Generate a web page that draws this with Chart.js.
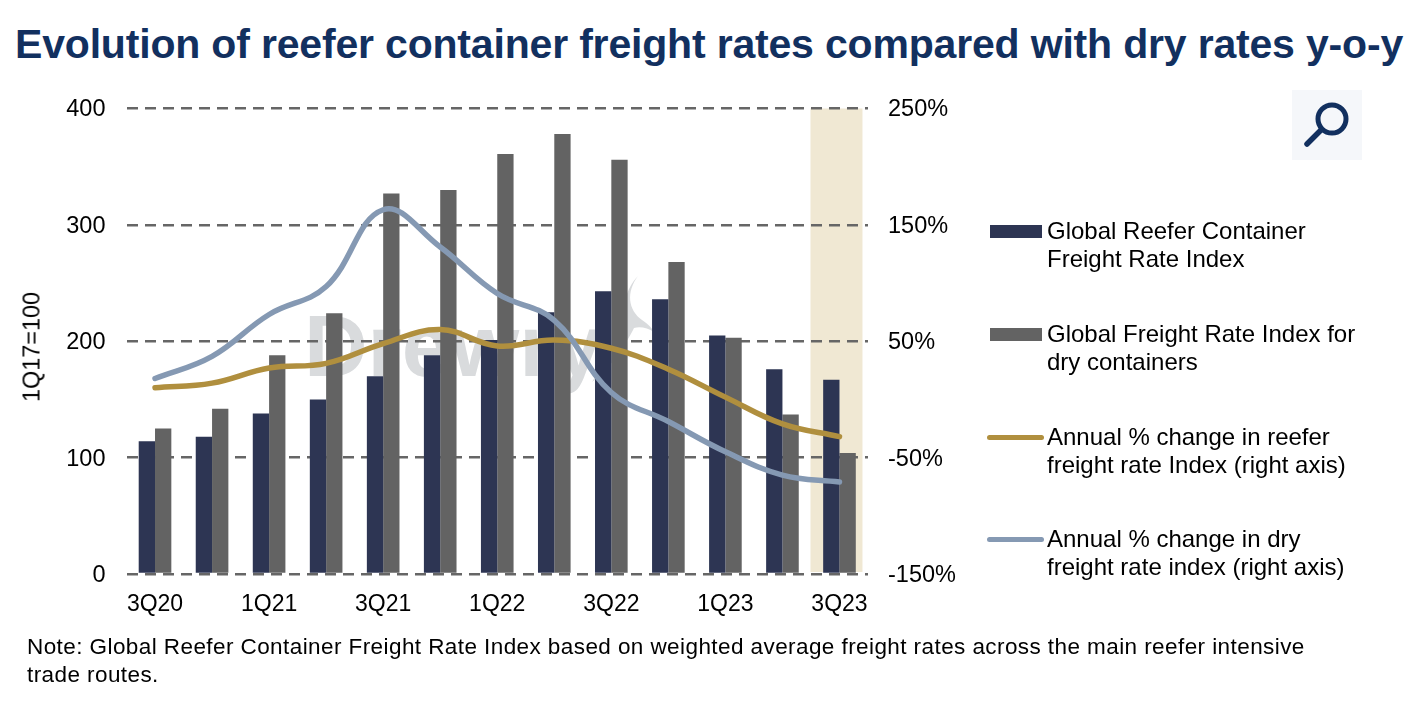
<!DOCTYPE html>
<html>
<head>
<meta charset="utf-8">
<title>Reefer freight rates</title>
<script src="https://cdn.jsdelivr.net/npm/chart.js@4/dist/chart.umd.min.js"></script>
<style>
  html, body { margin: 0; padding: 0; background: #fff; }
  body { width: 1416px; height: 716px; position: relative; overflow: hidden; font-family: "Liberation Sans", Arial, sans-serif; color: #000; }
  #title { position: absolute; left: 15px; top: 21px; font-size: 41px; letter-spacing: -0.18px; font-weight: bold; color: #12305f; white-space: nowrap; }
  #note { position: absolute; left: 27px; top: 633px; font-size: 22.5px; letter-spacing: 0.42px; line-height: 28px; white-space: nowrap; }
  #watermark { position: absolute; left: 304px; top: 295px; font-size: 88px; font-weight: bold; color: #d9dbdd; }
  #flame { position: absolute; left: 590px; top: 270px; }
  #chart { position: absolute; left: 0; top: 0; }
  #yTitle { position: absolute; left: 32px; top: 347px; font-size: 23.4px; white-space: nowrap; transform: translate(-50%, -50%) rotate(-90deg); }
  #zoomBox { position: absolute; left: 1292px; top: 90px; width: 70px; height: 70px; background: #f5f7fa; }
  .lg-text { position: absolute; left: 1047px; font-size: 24px; line-height: 28px; white-space: nowrap; }
  .lg-mark { position: absolute; }
</style>
</head>
<body>
<div id="title">Evolution of reefer container freight rates compared with dry rates y-o-y</div>
<div id="watermark">Drewry</div>
<svg id="flame" width="70" height="120" viewBox="0 0 70 120">
  <path d="M48 6 C36 22 38 40 52 50 C58 54 62 58 64 62 C58 58 50 56 44 58 C38 70 22 98 2 112 C14 92 22 76 28 56 C34 40 34 20 48 6 Z" fill="#d9dbdd"/>
</svg>
<canvas id="chart" width="1416" height="716"></canvas>
<div id="yTitle">1Q17=100</div>
<div id="zoomBox">
  <svg width="70" height="70" viewBox="0 0 70 70">
    <circle cx="40" cy="29" r="14" fill="none" stroke="#12305f" stroke-width="5"/>
    <line x1="29" y1="40" x2="15" y2="54" stroke="#12305f" stroke-width="5.5" stroke-linecap="round"/>
  </svg>
</div>
<div id="legend"></div>
<div id="note">Note: Global Reefer Container Freight Rate Index based on weighted average freight rates across the main reefer intensive<br>trade routes.</div>

<script>
const quarters = ["3Q20", "4Q20", "1Q21", "2Q21", "3Q21", "4Q21", "1Q22", "2Q22", "3Q22", "4Q22", "1Q23", "2Q23", "3Q23"];
const reeferIndex = [114, 118, 138, 150, 170, 188, 201, 225, 243, 236, 205, 176, 167];
const dryIndex = [125, 142, 188, 224, 327, 330, 361, 378, 356, 268, 203, 137, 104];
const reeferChange = [10, 14, 27, 31, 48, 60, 46, 51, 44, 26, 2, -21, -32];
const dryChange = [18, 37, 73, 97, 163, 131, 91, 68, 6, -19, -45, -65, -71];
const leftTicks = [0, 100, 200, 300, 400];
const rightTicks = [-150, -50, 50, 150, 250];

const NAVY = "#2d3553";
const GREY = "#636363";
const GOLD = "#b08f3e";
const STEEL = "#8599b3";

Chart.defaults.font.family = '"Liberation Sans", Arial, sans-serif';
Chart.defaults.color = "#000";

// banda bege atras do ultimo trimestre
const highlightBand = {
  id: "highlightBand",
  beforeDraw(chart) {
    const x = chart.scales.x.getPixelForValue(quarters.length - 1);
    const { top, bottom } = chart.chartArea;
    const ctx = chart.ctx;
    ctx.save();
    ctx.fillStyle = "#f0e8d3";
    ctx.fillRect(x - 29, top, 52, bottom - top - 2);
    ctx.restore();
  },
};

new Chart(document.getElementById("chart"), {
  type: "bar",
  plugins: [highlightBand],
  data: {
    labels: quarters,
    datasets: [
      { label: "Global Reefer Container Freight Rate Index", data: reeferIndex, backgroundColor: NAVY, yAxisID: "y", order: 3 },
      { label: "Global Freight Rate Index for dry containers", data: dryIndex, backgroundColor: GREY, yAxisID: "y", order: 3 },
      { type: "line", label: "Annual % change in reefer freight rate Index (right axis)", data: reeferChange, borderColor: GOLD, yAxisID: "y1", order: 2 },
      { type: "line", label: "Annual % change in dry freight rate index (right axis)", data: dryChange, borderColor: STEEL, yAxisID: "y1", order: 1 },
    ].map((d) => d.type === "line"
      ? { ...d, borderWidth: 5.5, tension: 0.4, pointRadius: 0, borderCapStyle: "round", borderJoinStyle: "round" }
      : { ...d, categoryPercentage: 0.572, barPercentage: 1 }),
  },
  options: {
    responsive: false,
    animation: false,
    layout: { padding: { top: 108.5 } },
    plugins: { legend: { display: false }, tooltip: { enabled: false } },
    scales: {
      x: {
        border: { display: false },
        grid: { display: false },
        afterFit: (s) => { s.height = 142; },
        ticks: {
          autoSkip: false,
          maxRotation: 0,
          padding: 9,
          font: { size: 23 },
          callback: (v, i) => (i % 2 === 0 ? quarters[i] : ""),
        },
      },
      y: {
        min: 0,
        max: 400,
        afterFit: (s) => { s.width = 126.5; },
        afterBuildTicks: (s) => { s.ticks = leftTicks.map((value) => ({ value })); },
        border: { display: false, dash: [11, 7] }, // tracejado da grade
        grid: { color: "#666", lineWidth: 2.6, drawTicks: false },
        ticks: { padding: 21, labelOffset: 1.5, font: { size: 23.5 } },
      },
      y1: {
        position: "right",
        min: -150,
        max: 250,
        afterFit: (s) => { s.width = 548; },
        afterBuildTicks: (s) => { s.ticks = rightTicks.map((value) => ({ value })); },
        border: { display: false },
        grid: { display: false, drawTicks: false },
        ticks: { padding: 20, labelOffset: 1.5, font: { size: 23.5 }, callback: (v) => v + "%" },
      },
    },
  },
});

// legenda em html para manter as quebras de linha do original
const legendRows = [
  { text: "Global Reefer Container<br>Freight Rate Index", top: 217, mark: NAVY, left: 990, width: 52, markTop: 225, markH: 13 },
  { text: "Global Freight Rate Index for<br>dry containers", top: 320, mark: GREY, left: 990, width: 52, markTop: 328, markH: 13 },
  { text: "Annual % change in reefer<br>freight rate Index (right axis)", top: 423, mark: GOLD, left: 987, width: 57, markTop: 434.5, markH: 5 },
  { text: "Annual % change in dry<br>freight rate index (right axis)", top: 525, mark: STEEL, left: 987, width: 57, markTop: 536.5, markH: 5 },
];
const legendEl = document.getElementById("legend");
legendRows.forEach((r) => {
  const t = document.createElement("div");
  t.className = "lg-text";
  t.style.top = r.top + "px";
  t.innerHTML = r.text;
  legendEl.appendChild(t);
  const m = document.createElement("div");
  m.className = "lg-mark";
  m.style.left = r.left + "px";
  m.style.width = r.width + "px";
  m.style.top = r.markTop + "px";
  m.style.height = r.markH + "px";
  m.style.background = r.mark;
  if (r.markH === 5) m.style.borderRadius = "3px";
  legendEl.appendChild(m);
});
</script>
</body>
</html>
